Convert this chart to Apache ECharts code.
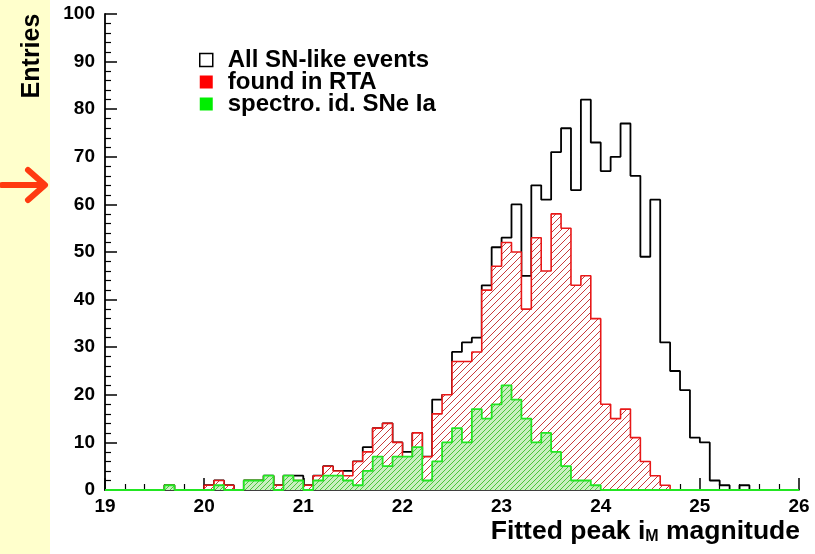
<!DOCTYPE html>
<html>
<head>
<meta charset="utf-8">
<script src="https://cdn.jsdelivr.net/npm/echarts@6/dist/echarts.min.js"></script>
<style>
html,body{margin:0;padding:0;background:#fff;}
#chart{width:815px;height:554px;}
</style>
</head>
<body>
<div id="chart"></div>
<script>
// Bin lower edges (bin width 0.1), last upper edge 26.0
const binLow = [19.0,19.1,19.2,19.3,19.4,19.5,19.6,19.7,19.8,19.9,
  20.0,20.1,20.2,20.3,20.4,20.5,20.6,20.7,20.8,20.9,
  21.0,21.1,21.2,21.3,21.4,21.5,21.6,21.7,21.8,21.9,
  22.0,22.1,22.2,22.3,22.4,22.5,22.6,22.7,22.8,22.9,
  23.0,23.1,23.2,23.3,23.4,23.5,23.6,23.7,23.8,23.9,
  24.0,24.1,24.2,24.3,24.4,24.5,24.6,24.7,24.8,24.9,
  25.0,25.1,25.2,25.3,25.4,25.5,25.6,25.7,25.8,25.9];
const lastEdge = 26.0;

const allEvents = [0,0,0,0,0,0,1,0,0,0,
  1,2,1,0,2,2,3,1,3,3,
  1,3,5,4,4,6,9,13,14,10,
  8,12,7,19,20,29,31,32,43,51,
  53,60,45,64,61,71,76,63,82,73,
  67,70,77,66,49,61,31,25,21,11,
  10,2,1,0,1,0,0,0,0,0];

const foundRTA = [0,0,0,0,0,0,1,0,0,0,
  1,2,1,0,2,2,3,1,3,2,
  1,3,5,4,3,6,8,13,14,10,
  7,12,7,16,20,27,27,29,42,47,
  52,50,38,53,46,58,55,43,45,36,
  18,15,17,11,6,3,1,0,0,0,
  0,0,0,0,0,0,0,0,0,0];

const spectroIa = [0,0,0,0,0,0,1,0,0,0,
  0,1,0,0,2,2,3,0,3,2,
  0,2,3,3,2,1,4,7,5,7,
  7,9,2,6,10,13,10,17,15,18,
  22,19,15,10,12,8,5,2,2,1,
  0,0,0,0,0,0,0,0,0,0,
  0,0,0,0,0,0,0,0,0,0];

const seriesNames = ['All SN-like events', 'found in RTA', 'spectro. id. SNe Ia'];
const yTicks = [0,10,20,30,40,50,60,70,80,90,100];
const xTicks = [19,20,21,22,23,24,25,26];

function stepData(vals){
  const d = binLow.map((x,i)=>[x, vals[i]]);
  d.push([lastEdge, vals[vals.length-1]]);
  return d;
}

function hatch(size, bg, fg, lw){
  const c = document.createElement('canvas');
  c.width = size; c.height = size;
  const ctx = c.getContext('2d');
  if (bg){ ctx.fillStyle = bg; ctx.fillRect(0,0,size,size); }
  ctx.strokeStyle = fg; ctx.lineWidth = lw;
  ctx.beginPath();
  ctx.moveTo(0,size); ctx.lineTo(size,0);
  ctx.moveTo(-size/2,size/2); ctx.lineTo(size/2,-size/2);
  ctx.moveTo(size/2,size*1.5); ctx.lineTo(size*1.5,size/2);
  ctx.stroke();
  return c;
}

const FONT = '"Liberation Sans", Arial, Helvetica, sans-serif';
const chart = echarts.init(document.getElementById('chart'), null, {renderer:'canvas'});

const option = {
  animation:false,
  backgroundColor:'#ffffff',
  grid:{left:105, right:16, top:14, bottom:64, containLabel:false},
  xAxis:{
    type:'value', min:19, max:26, interval:1,
    axisLine:{show:true, onZero:false, lineStyle:{color:'#000', width:1.5}},
    axisTick:{show:true, inside:true, length:12, lineStyle:{color:'#000', width:1.5}},
    minorTick:{show:true, splitNumber:5, length:6, lineStyle:{color:'#000', width:1.2}},
    splitLine:{show:false},
    axisLabel:{margin:7, color:'#000', fontSize:19, fontWeight:'bold', fontFamily:FONT,
      formatter:(v)=> xTicks.indexOf(v)>=0 ? String(v) : ''}
  },
  yAxis:{
    type:'value', min:0, max:100, interval:10,
    axisLine:{show:true, lineStyle:{color:'#000', width:1.8}},
    axisTick:{show:true, inside:true, length:12, lineStyle:{color:'#000', width:1.5}},
    minorTick:{show:true, splitNumber:5, length:6, lineStyle:{color:'#000', width:1.2}},
    splitLine:{show:false},
    axisLabel:{margin:10, color:'#000', fontSize:19, fontWeight:'bold', fontFamily:FONT,
      formatter:(v)=> yTicks.indexOf(v)>=0 ? String(v) : ''}
  },
  legend:{
    orient:'vertical', left:199, top:48, itemWidth:13, itemHeight:13, itemGap:-2,
    padding:0, selectedMode:false,
    textStyle:{color:'#000', fontSize:24, lineHeight:22, fontWeight:'bold', fontFamily:FONT,
      padding:[0,0,0,10]},
    data:[
      {name:seriesNames[0], icon:'rect', itemStyle:{color:'#ffffff', borderColor:'#000', borderWidth:1.5}},
      {name:seriesNames[1], icon:'rect', itemStyle:{color:'#ff0000', borderWidth:0}},
      {name:seriesNames[2], icon:'rect', itemStyle:{color:'#00ee00', borderWidth:0}}
    ]
  },
  series:[
    {name:seriesNames[0], type:'line', step:'end', data:stepData(allEvents), showSymbol:false,
      z:2, lineStyle:{color:'#000', width:1.8}, itemStyle:{color:'#000'}},
    {name:seriesNames[1], type:'line', step:'end', data:stepData(foundRTA), showSymbol:false,
      z:3, lineStyle:{color:'#e81818', width:1.6}, itemStyle:{color:'#ff0000'},
      areaStyle:{opacity:1, color:{image:hatch(7, '#ffffff', '#c83c3c', 1), repeat:'repeat'}}},
    {name:seriesNames[2], type:'line', step:'end', data:stepData(spectroIa), showSymbol:false,
      z:4, lineStyle:{color:'#22e622', width:1.8}, itemStyle:{color:'#00ee00'},
      areaStyle:{opacity:1, color:{image:hatch(5, '#c8f0c0', '#4cc43c', 1), repeat:'repeat'}}}
  ],
  graphic:[
    {type:'rect', left:0, top:0, z:-10, shape:{width:50, height:554}, style:{fill:'#ffffcc'}},
    {type:'polyline', z:10, shape:{points:[[2,185],[42,185]]},
      style:{stroke:'#ff3a10', lineWidth:6, lineCap:'round', fill:null}},
    {type:'polyline', z:10, shape:{points:[[28,170],[45,185],[28,200]]},
      style:{stroke:'#ff3a10', lineWidth:6, lineCap:'round', lineJoin:'round', fill:null}},
    {type:'text', z:10, x:32, y:56, rotation:Math.PI/2,
      style:{text:'Entries', fill:'#000', font:'bold 25px ' + FONT, align:'center', verticalAlign:'middle'}},
    {type:'text', z:10, right:15, top:518,
      style:{text:'{a|Fitted peak i}{s|M}{a| magnitude}', fill:'#000',
        rich:{a:{fontSize:26.5, fontWeight:'bold', fontFamily:FONT, fill:'#000', verticalAlign:'bottom', lineHeight:30},
              s:{fontSize:16, fontWeight:'bold', fontFamily:FONT, fill:'#000', verticalAlign:'bottom', lineHeight:20}}}}
  ]
};
chart.setOption(option);
</script>
</body>
</html>
